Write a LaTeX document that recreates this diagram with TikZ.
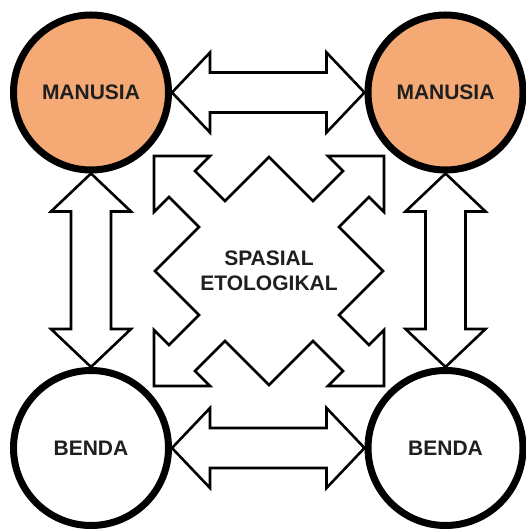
\documentclass[tikz,border=0pt]{standalone}
\usepackage{fontspec}
\setmainfont{Liberation Sans}
\usepackage{tikz}
\usepackage{xcolor}
\usetikzlibrary{calc}

\definecolor{peach}{RGB}{245,170,118}

\begin{document}
\begin{tikzpicture}[
  x=1pt, y=1pt,
  font=\fontsize{21}{25}\selectfont\bfseries,
  subject/.style={
    circle, draw=black, line width=7pt, minimum size=155pt,
    inner sep=0pt, text=black!88
  },
  human/.style={subject, fill=peach},
  thing/.style={subject, fill=white},
  fatarrow/.style={draw=black, line width=2.6pt, fill=white, line join=miter},
  quadarrow/.style={draw=black, line width=2.6pt, fill=white, line join=miter}
]
\useasboundingbox (0,0) rectangle (526,529);

\node[human] (manL) at (91,436.5) {MANUSIA};
\node[human] (manR) at (445.5,436.5) {MANUSIA};
\node[thing] (benL) at (91,81) {BENDA};
\node[thing] (benR) at (445.5,81) {BENDA};

% horizontal double arrows
\draw[fatarrow] (manL.east) -- ++(38,40) -- ++(0,-20)
  -- ($(manR.west)+(-38,20)$) -- ++(0,20) -- (manR.west) -- ++(-38,-40)
  -- ++(0,20) -- ($(manL.east)+(38,-20)$) -- ++(0,-20) -- cycle;
\draw[fatarrow] (benL.east) -- ++(38,40) -- ++(0,-20)
  -- ($(benR.west)+(-38,20)$) -- ++(0,20) -- (benR.west) -- ++(-38,-40)
  -- ++(0,20) -- ($(benL.east)+(38,-20)$) -- ++(0,-20) -- cycle;

% vertical double arrows
\draw[fatarrow] (manL.south) -- ++(40,-38) -- ++(-20,0)
  -- ($(benL.north)+(20,38)$) -- ++(20,0) -- (benL.north) -- ++(-40,38)
  -- ++(20,0) -- ($(manL.south)+(-20,-38)$) -- ++(-20,0) -- cycle;
\draw[fatarrow] (manR.south) -- ++(40,-38) -- ++(-20,0)
  -- ($(benR.north)+(20,38)$) -- ++(20,0) -- (benR.north) -- ++(-40,38)
  -- ++(20,0) -- ($(manR.south)+(-20,-38)$) -- ++(-20,0) -- cycle;

% four-way zigzag arrow in the middle
\begin{scope}[shift={(269,258)}]
\draw[quadarrow] (-115,115) -- (-59,115) -- (-74,100) -- (-44,70) -- (0,114)
  -- (44,70) -- (74,100) -- (59,115) -- (115,115) -- (115,59) -- (100,74)
  -- (70,44) -- (114,0) -- (70,-44) -- (100,-74) -- (115,-59) -- (115,-115)
  -- (59,-115) -- (74,-100) -- (44,-70) -- (0,-114) -- (-44,-70) -- (-74,-100)
  -- (-59,-115) -- (-115,-115) -- (-115,-59) -- (-100,-74) -- (-70,-44)
  -- (-114,0) -- (-70,44) -- (-100,74) -- (-115,59) -- cycle;
\node[align=center, text=black!88] (spasial) at (0,0) {SPASIAL\\ETOLOGIKAL};
\end{scope}
\end{tikzpicture}
\end{document}
